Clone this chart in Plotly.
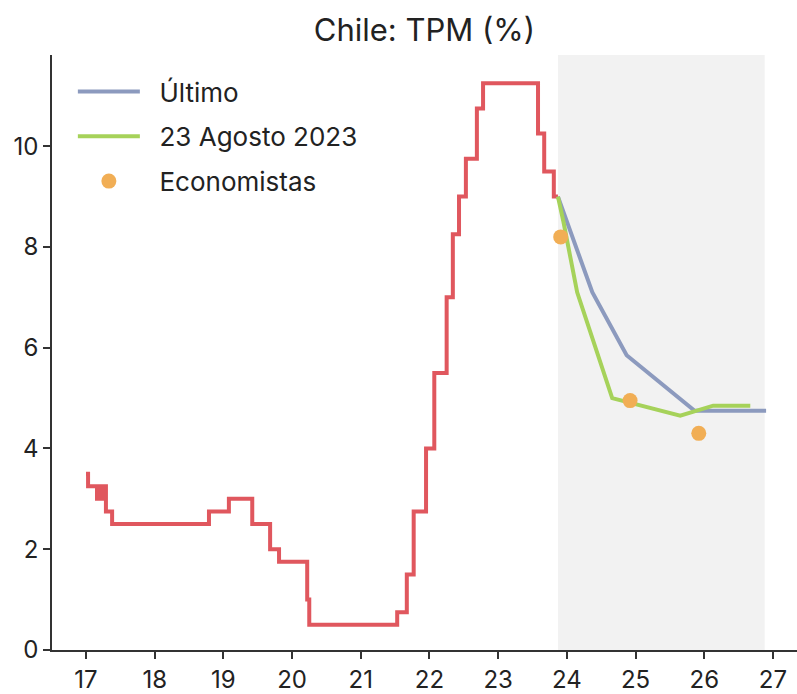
import plotly.graph_objects as go

# Tasa de política monetaria (TPM), años como fracción decimal (17 = 2017)
tpm_fechas = [17.0, 17.03, 17.16, 17.18, 17.20, 17.22, 17.24, 17.26, 17.29, 17.38,
              18.79, 19.08, 19.42, 19.68, 19.81, 20.22, 20.25, 21.53, 21.67, 21.77,
              21.95, 22.07, 22.25, 22.34, 22.43, 22.53, 22.69, 22.78, 23.58, 23.67,
              23.81, 23.87]
tpm_valores = [3.5, 3.25, 3.0, 3.25, 3.0, 3.25, 3.0, 3.25, 2.75, 2.5,
               2.75, 3.0, 2.5, 2.0, 1.75, 1.0, 0.5, 0.75, 1.5, 2.75,
               4.0, 5.5, 7.0, 8.25, 9.0, 9.75, 10.75, 11.25, 10.25, 9.5,
               9.0, 9.0]

# Trayectoria implícita: última y del 23 de agosto de 2023
ultimo_fechas = [23.87, 24.37, 24.87, 25.86, 26.90]
ultimo_valores = [9.0, 7.1, 5.85, 4.75, 4.75]

agosto_fechas = [23.87, 23.95, 24.15, 24.66, 25.65, 26.13, 26.67]
agosto_valores = [9.0, 8.5, 7.1, 5.0, 4.65, 4.85, 4.85]

# Encuesta de economistas
econ_fechas = [23.91, 24.92, 25.92]
econ_valores = [8.2, 4.95, 4.3]

# Periodo de proyección sombreado
proy_inicio, proy_fin = 23.87, 26.88

x_ticks = [17, 18, 19, 20, 21, 22, 23, 24, 25, 26, 27]
y_ticks = [0, 2, 4, 6, 8, 10]

FONT = "Inter, Lato, sans-serif"
ROJO = "#E0575E"
AZUL = "#8C9ABE"
VERDE = "#A6D25A"
NARANJA = "#F1AE55"
SEP = "\u00a0\u00a0"

fig = go.Figure()

fig.add_vrect(x0=proy_inicio, x1=proy_fin, fillcolor="#F2F2F2", line_width=0,
              layer="below")

fig.add_trace(go.Scatter(x=tpm_fechas, y=tpm_valores, mode="lines",
                         line=dict(color=ROJO, width=4, shape="hv"),
                         showlegend=False, hoverinfo="x+y"))

fig.add_trace(go.Scatter(x=ultimo_fechas, y=ultimo_valores, mode="lines",
                         name=SEP + "Último", legendgroup="a",
                         line=dict(color=AZUL, width=4)))

fig.add_trace(go.Scatter(x=agosto_fechas, y=agosto_valores, mode="lines",
                         name=SEP + "23 Agosto 2023", legendgroup="b",
                         line=dict(color=VERDE, width=4)))

fig.add_trace(go.Scatter(x=econ_fechas, y=econ_valores, mode="markers",
                         name=SEP + "Economistas", legendgroup="c",
                         marker=dict(color=NARANJA, size=15)))

fig.update_layout(
    width=797, height=694,
    margin=dict(l=52, r=0, t=55, b=39),
    paper_bgcolor="white", plot_bgcolor="white",
    font=dict(family=FONT, size=23, color="#222222"),
    title=dict(text="Chile: TPM (%)", x=0.5325, xanchor="center",
               y=0.957, yanchor="middle",
               font=dict(family=FONT, size=31, color="#222222")),
    legend=dict(x=0.028, y=0.978, xanchor="left", yanchor="top",
                bgcolor="rgba(0,0,0,0)", itemwidth=62,
                font=dict(family=FONT, size=26, color="#222222"),
                tracegroupgap=8),
    xaxis=dict(range=[16.505, 27.35], tickvals=x_ticks,
               ticktext=[str(v) for v in x_ticks],
               showgrid=False, zeroline=False,
               showline=True, linecolor="#333333", linewidth=1.5,
               ticks="outside", ticklen=7, tickwidth=1.5, tickcolor="#333333",
               tickfont=dict(family=FONT, size=24, color="#222222")),
    yaxis=dict(range=[0, 11.81], tickvals=y_ticks,
               showgrid=False, zeroline=False,
               showline=True, linecolor="#333333", linewidth=1.5,
               ticks="outside", ticklen=7, tickwidth=1.5, tickcolor="#333333",
               tickfont=dict(family=FONT, size=24, color="#222222")),
)

fig.write_html("out.html")
